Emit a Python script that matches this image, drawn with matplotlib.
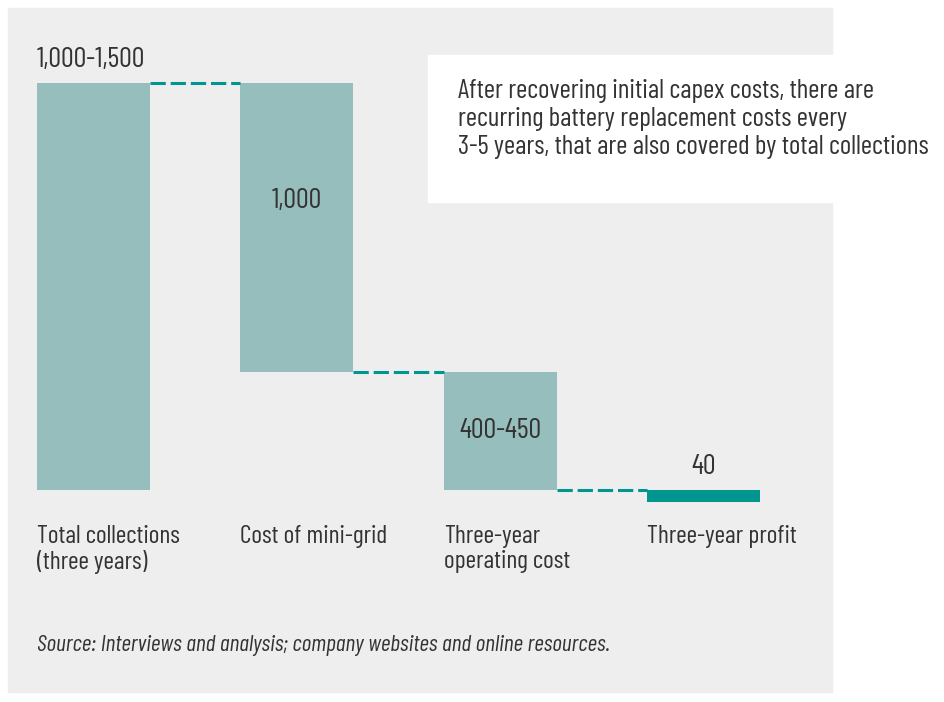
import matplotlib
matplotlib.use("Agg")
import matplotlib.pyplot as plt
from matplotlib.patches import Rectangle
from matplotlib import font_manager as fm

# pick a condensed face if one is installed
installed = {f.name for f in fm.fontManager.ttflist}
wanted = ['Barlow Condensed', 'Roboto Condensed', 'Barlow Semi Condensed',
          'Liberation Sans Narrow', 'Liberation Sans']
fam = [f for f in wanted if f in installed][:1] + ['DejaVu Sans']
plt.rcParams['font.family'] = fam

# data
categories = ['Total collections\n(three years)', 'Cost of mini-grid',
              'Three-year\noperating cost', 'Three-year profit']
value_labels = ['1,000-1,500', '1,000', '400-450', '40']
totals = 1410        # total collections
minigrid = 1000
operating = 410
profit = 40

note = ("After recovering initial capex costs, there are\n"
        "recurring battery replacement costs every\n"
        "3-5 years, that are also covered by total collections")
source = "Source: Interviews and analysis; company websites and online resources."

light = '#96bebd'
dark = '#00968f'
txt = '#333333'

fig = plt.figure(figsize=(9.45, 7.02), dpi=100)
fig.patch.set_facecolor('white')

# grey panel + white note box
fig.patches.append(Rectangle((8/945, 1-692/702), 824/945, 684/702,
                             transform=fig.transFigure, color='#eeeeee', zorder=0))
fig.patches.append(Rectangle((428/945, 1-202/702), 517/945, 147/702,
                             transform=fig.transFigure, color='white', zorder=1))

ax = fig.add_axes([20/945, 1-510/702, 814/945, 450/702])
ax.set_zorder(3)
ax.set_facecolor('none')
for s in ax.spines.values():
    s.set_visible(False)
ax.set_xticks([])
ax.set_yticks([])
ax.set_xlim(-0.361, 3.639)
ax.set_ylim(-69, 1488)

w = 0.555
bottoms = [0, operating, 0, 0]
heights = [totals, minigrid, operating, -profit]
colors = [light, light, light, dark]
x = list(range(4))
ax.bar(x, heights, bottom=bottoms, width=w, color=colors, zorder=2)

# dashed connectors
levels = [totals, operating, 0]
for i, lv in enumerate(levels):
    ax.plot([i + w/2, i + 1 - w/2], [lv, lv], color=dark, lw=2.2,
            dashes=(5, 1.6), zorder=2)

# value labels
ax.annotate(value_labels[0], (0 - w/2, totals), xytext=(0, 10),
            textcoords='offset pixels', ha='left', va='bottom', fontsize=20.5, color=txt)
ax.text(1, operating + minigrid * 0.59, value_labels[1], ha='center', va='center',
        fontsize=20.5, color=txt)
ax.text(2, operating / 2, value_labels[2], ha='center', va='center',
        fontsize=20.5, color=txt)
ax.annotate(value_labels[3], (3, 0), xytext=(0, 10),
            textcoords='offset pixels', ha='center', va='bottom', fontsize=20.5, color=txt)

# category labels
for i, c in enumerate(categories):
    ax.annotate(c, (i - w/2, 0), xytext=(0, -35), textcoords='offset pixels',
                ha='left', va='top', fontsize=18.5, color=txt, linespacing=1.1)

fig.text(458/945, 1-79/702, note, ha='left', va='top', fontsize=19.5,
         color=txt, linespacing=1.22, zorder=4)
fig.text(37/945, 1-645/702, source, ha='left', va='center', fontsize=17,
         style='italic', color=txt)

fig.savefig('out.png', dpi=100)
